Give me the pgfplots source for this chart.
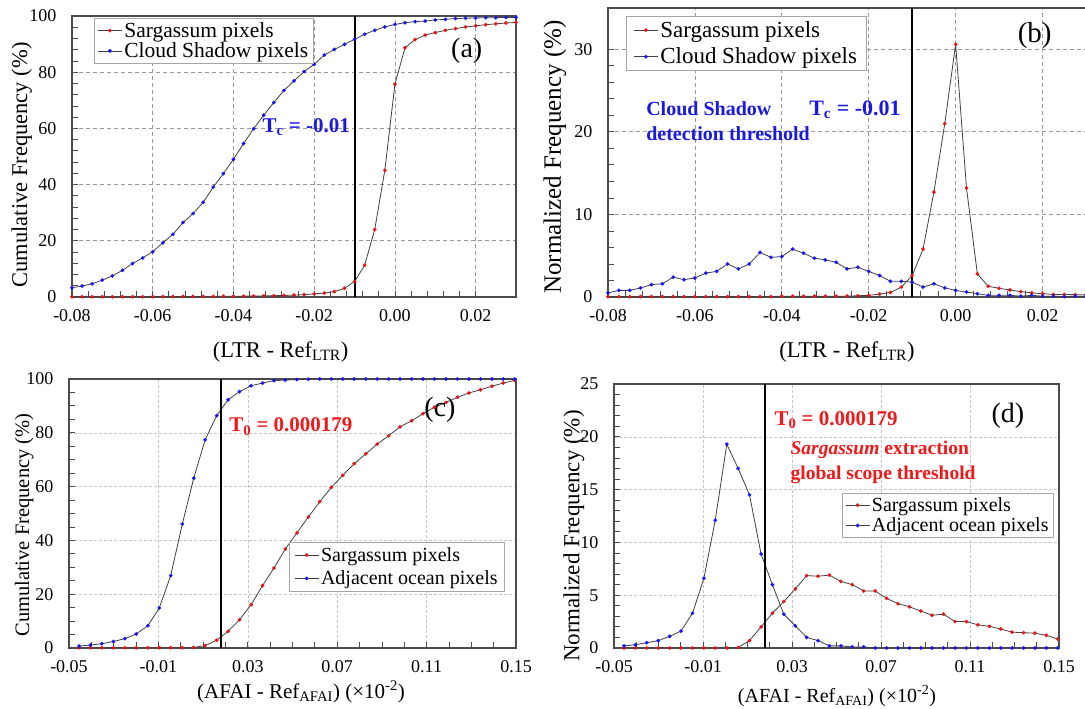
\documentclass[border=0pt]{standalone}
\usepackage{fontspec}
\setmainfont{Liberation Serif}
\usepackage{pgfplots}
\pgfplotsset{compat=1.18}

\definecolor{mred}{RGB}{230,20,20}
\definecolor{mblue}{RGB}{20,20,245}
\definecolor{tblue}{RGB}{25,25,225}
\definecolor{tred}{RGB}{240,25,25}

\newcommand{\fs}[1]{\fontsize{#1}{#1}\selectfont}

\pgfplotsset{
 panel/.style={
  scale only axis,
  axis line style={black!70, line width=1.1pt},
  tick style={black!70, line width=0.8pt},
  major tick length=6pt, minor tick length=6pt,
  xtick pos=left, ytick pos=left,
  tick align=inside,
  xmajorgrids, ymajorgrids,
  scaled x ticks=false, scaled y ticks=false,
  /pgf/number format/assume math mode=true,
  tick label style={font=\fs{18}, text=black},
  xticklabel style={yshift=-9pt},
  yticklabel style={xshift=-12pt},
  legend cell align=left,
  legend image code/.code={\draw[mark repeat=2,mark phase=2] plot coordinates {(0cm,0cm)(0.42cm,0cm)(0.84cm,0cm)};},
  legend style={draw=gray!70, line width=0.8pt, fill=white, anchor=north west, inner xsep=3pt, inner ysep=2pt},
  every axis x label/.style={anchor=base},
  every axis y label/.style={rotate=90, anchor=center},
 },
 gridA/.style={major grid style={gray!80, dash pattern=on 4pt off 3pt, line width=0.7pt}},
 gridC/.style={major grid style={gray!45, dash pattern=on 3pt off 2pt, line width=0.5pt}},
 sarg/.style={draw=black!75, line width=0.8pt, mark=*, mark size=1.8pt, mark options={solid, draw=mred, fill=mred, line width=0.2pt}},
 cloud/.style={draw=black!75, line width=0.8pt, mark=*, mark size=1.8pt, mark options={solid, draw=mblue, fill=mblue, line width=0.2pt}},
 thr/.style={draw=black, line width=2pt, forget plot},
}

\begin{document}
\begin{tikzpicture}

% ---------------- (a) ----------------
\begin{axis}[panel, gridA,
  at={(72pt,412pt)}, anchor=south west, width=444pt, height=281pt,
  xmin=-0.08, xmax=0.03, ymin=0, ymax=100,
  xtick={-0.08,-0.06,-0.04,-0.02,0,0.02},
  xticklabels={-0.08,-0.06,-0.04,-0.02,0.00,0.02},
  ytick={0,20,40,60,80,100},
  minor x tick num=4, minor y tick num=4,
  xlabel={(LTR - Ref\textsubscript{LTR})},
  ylabel={Cumulative Frequency (\%)},
  x label style={at={(axis description cs:0.47,-0.214)}, font=\fs{22.5}},
  y label style={at={(axis description cs:-0.113,0.47)}, font=\fs{22.5}},
  legend style={at={(axis description cs:0.05,0.993)}, font=\fontsize{21.5}{23}\selectfont, row sep=0pt},
]
\addplot[sarg] coordinates {
(-0.08,0.1) (-0.0775,0.1) (-0.075,0.1) (-0.0725,0.1) (-0.07,0.1) (-0.0675,0.1) (-0.065,0.1) (-0.0625,0.1)
(-0.06,0.15) (-0.0575,0.15) (-0.055,0.15) (-0.0525,0.2) (-0.05,0.2) (-0.0475,0.2) (-0.045,0.2) (-0.0425,0.25)
(-0.04,0.25) (-0.0375,0.3) (-0.035,0.35) (-0.0325,0.4) (-0.03,0.45) (-0.0275,0.55) (-0.025,0.65) (-0.0225,0.85)
(-0.02,1.1) (-0.0175,1.4) (-0.015,1.9) (-0.0125,3.1) (-0.01,5.5) (-0.0075,11.3) (-0.005,24.0) (-0.0025,45.1)
(0,75.7) (0.0025,88.7) (0.005,91.6) (0.0075,93.2) (0.01,94.1) (0.0125,94.9) (0.015,95.5) (0.0175,96.1)
(0.02,96.5) (0.0225,96.9) (0.025,97.2) (0.0275,97.5) (0.03,97.7)};
\addlegendentry{Sargassum pixels}
\addplot[cloud] coordinates {
(-0.08,3.3) (-0.0775,3.9) (-0.075,4.7) (-0.0725,6.0) (-0.07,7.5) (-0.0675,9.5) (-0.065,11.9) (-0.0625,13.9)
(-0.06,16.1) (-0.0575,19.3) (-0.055,22.3) (-0.0525,26.5) (-0.05,29.7) (-0.0475,33.7) (-0.045,39.1) (-0.0425,43.9)
(-0.04,49.0) (-0.0375,54.6) (-0.035,59.9) (-0.0325,64.7) (-0.03,69.2) (-0.0275,73.5) (-0.025,76.9) (-0.0225,80.2)
(-0.02,82.8) (-0.0175,86.1) (-0.015,88.1) (-0.0125,89.9) (-0.01,91.7) (-0.0075,93.5) (-0.005,94.9) (-0.0025,96.1)
(0,97.0) (0.0025,97.6) (0.005,98.0) (0.0075,98.2) (0.01,98.6) (0.0125,98.8) (0.015,99.1) (0.0175,99.2)
(0.02,99.3) (0.0225,99.4) (0.025,99.4) (0.0275,99.5) (0.03,99.5)};
\addlegendentry{Cloud Shadow pixels}
\addplot[thr] coordinates {(-0.01,0) (-0.01,100)};
\node[anchor=base east, text=tblue, font=\fs{21}\bfseries] at (axis cs:-0.0103,58.7) {T\textsubscript{c} = -0.01};
\node[anchor=base, font=\fs{28}] at (axis cs:0.0178,85.4) {(a)};
\end{axis}

% ---------------- (b) ----------------
\begin{axis}[panel, gridA,
  at={(608pt,412pt)}, anchor=south west, width=478pt, height=289pt,
  xmin=-0.08, xmax=0.03, ymin=0, ymax=35,
  xtick={-0.08,-0.06,-0.04,-0.02,0,0.02},
  xticklabels={-0.08,-0.06,-0.04,-0.02,0.00,0.02},
  ytick={0,10,20,30},
  minor x tick num=4, minor y tick num=4,
  xlabel={(LTR - Ref\textsubscript{LTR})},
  ylabel={Normalized Frequency (\%)},
  x label style={at={(axis description cs:0.5,-0.208)}, font=\fs{22.5}},
  y label style={at={(axis description cs:-0.111,0.484)}, font=\fs{25}},
  legend style={at={(axis description cs:0.038,0.972)}, font=\fontsize{23}{27}\selectfont, row sep=5pt, inner xsep=7pt, inner ysep=3pt},
]
\addplot[sarg] coordinates {
(-0.08,0.05) (-0.0775,0.05) (-0.075,0.05) (-0.0725,0.05) (-0.07,0.05) (-0.0675,0.05) (-0.065,0.05) (-0.0625,0.05)
(-0.06,0.05) (-0.0575,0.05) (-0.055,0.05) (-0.0525,0.05) (-0.05,0.05) (-0.0475,0.05) (-0.045,0.05) (-0.0425,0.05)
(-0.04,0.1) (-0.0375,0.1) (-0.035,0.1) (-0.0325,0.1) (-0.03,0.1) (-0.0275,0.1) (-0.025,0.1) (-0.0225,0.15)
(-0.02,0.2) (-0.0175,0.35) (-0.015,0.55) (-0.0125,1.2) (-0.01,2.6) (-0.0075,5.8) (-0.005,12.7) (-0.0025,21.0)
(0,30.6) (0.0025,13.2) (0.005,2.8) (0.0075,1.3) (0.01,1.05) (0.0125,0.85) (0.015,0.65) (0.0175,0.5)
(0.02,0.4) (0.0225,0.3) (0.025,0.3) (0.0275,0.28) (0.03,0.28)};
\addlegendentry{Sargassum pixels}
\addplot[cloud] coordinates {
(-0.08,0.5) (-0.0775,0.8) (-0.075,0.8) (-0.0725,1.1) (-0.07,1.5) (-0.0675,1.6) (-0.065,2.4) (-0.0625,2.1)
(-0.06,2.3) (-0.0575,2.9) (-0.055,3.1) (-0.0525,4.0) (-0.05,3.4) (-0.0475,4.0) (-0.045,5.4) (-0.0425,4.8)
(-0.04,4.9) (-0.0375,5.8) (-0.035,5.3) (-0.0325,4.7) (-0.03,4.5) (-0.0275,4.2) (-0.025,3.4) (-0.0225,3.6)
(-0.02,3.1) (-0.0175,2.6) (-0.015,1.9) (-0.0125,1.9) (-0.01,1.8) (-0.0075,1.2) (-0.005,1.6) (-0.0025,1.1)
(0,0.8) (0.0025,0.6) (0.005,0.4) (0.0075,0.2) (0.01,0.2) (0.0125,0.2) (0.015,0.1) (0.0175,0.2)
(0.02,0.1) (0.0225,0.1) (0.025,0.05) (0.0275,0.1) (0.03,0.1)};
\addlegendentry{Cloud Shadow pixels}
\addplot[thr] coordinates {(-0.01,0) (-0.01,35)};
\node[anchor=base west, text=tblue, font=\fs{20}\bfseries] at (axis cs:-0.072,22.0) {Cloud Shadow};
\node[anchor=base west, text=tblue, font=\fs{20}\bfseries] at (axis cs:-0.072,19.0) {detection threshold};
\node[anchor=base west, text=tblue, font=\fs{22}\bfseries] at (axis cs:-0.0345,22.0) {T\textsubscript{c} = -0.01};
\node[anchor=base, font=\fs{29}] at (axis cs:0.0182,30.8) {(b)};
\end{axis}

% ---------------- (c) ----------------
\begin{axis}[panel, gridC,
  at={(69pt,61pt)}, anchor=south west, width=447pt, height=269pt,
  xmin=-0.05, xmax=0.15, ymin=0, ymax=100,
  xtick={-0.05,-0.01,0.03,0.07,0.11,0.15},
  xticklabels={-0.05,-0.01,0.03,0.07,0.11,0.15},
  ytick={0,20,40,60,80,100},
  minor x tick num=3, minor y tick num=3,
  xlabel={(AFAI - Ref\textsubscript{AFAI}) (×10\textsuperscript{-2})},
  ylabel={Cumulative Frequency (\%)},
  x label style={at={(axis description cs:0.519,-0.186)}, font=\fs{21}},
  y label style={at={(axis description cs:-0.10,0.457)}, font=\fs{20.5}},
  legend style={at={(axis description cs:0.492,0.394)}, font=\fontsize{20}{24}\selectfont, row sep=4pt, inner xsep=5pt, inner ysep=3pt},
]
\addplot[sarg] coordinates {
(-0.0455,0.1) (-0.0404,0.1) (-0.0353,0.1) (-0.0301,0.1) (-0.0250,0.1) (-0.0199,0.1) (-0.0147,0.1) (-0.0096,0.1)
(-0.0045,0.1) (0.0007,0.1) (0.0058,0.2) (0.0109,0.9) (0.0161,2.9) (0.0212,6.2) (0.0263,10.5) (0.0315,16.1)
(0.0366,23.2) (0.0417,29.7) (0.0468,36.8) (0.0520,42.8) (0.0571,48.7) (0.0622,54.4) (0.0674,59.7) (0.0725,64.2)
(0.0776,68.5) (0.0828,72.2) (0.0879,75.8) (0.0930,78.9) (0.0981,82.2) (0.1033,84.5) (0.1084,87.1) (0.1135,89.5)
(0.1187,91.3) (0.1238,93.2) (0.1289,94.8) (0.1341,96.0) (0.1392,97.3) (0.1443,98.5) (0.1494,99.5)};
\addlegendentry{Sargassum pixels}
\addplot[cloud] coordinates {
(-0.0455,0.7) (-0.0404,1.1) (-0.0353,1.6) (-0.0301,2.4) (-0.0250,3.5) (-0.0199,5.2) (-0.0147,8.3) (-0.0096,14.9)
(-0.0045,26.9) (0.0007,46.1) (0.0058,63.1) (0.0109,77.4) (0.0161,86.4) (0.0212,92.3) (0.0263,95.3) (0.0315,97.5)
(0.0366,98.5) (0.0417,99.4) (0.0468,99.6) (0.0520,99.8) (0.0571,99.9) (0.0622,100) (0.0674,100) (0.0725,100)
(0.0776,100) (0.0828,100) (0.0879,100) (0.0930,100) (0.0981,100) (0.1033,100) (0.1084,100) (0.1135,100)
(0.1187,100) (0.1238,100) (0.1289,100) (0.1341,100) (0.1392,100) (0.1443,100) (0.1494,100)};
\addlegendentry{Adjacent ocean pixels}
\addplot[thr] coordinates {(0.0179,0) (0.0179,100)};
\node[anchor=base west, text=tred, font=\fs{21}\bfseries] at (axis cs:0.0202,80.3) {T\textsubscript{0} = 0.000179};
\node[anchor=base, font=\fs{28}] at (axis cs:0.116,85.9) {(c)};
\end{axis}

% ---------------- (d) ----------------
\begin{axis}[panel, gridC,
  at={(614pt,61pt)}, anchor=south west, width=445pt, height=264pt,
  xmin=-0.05, xmax=0.15, ymin=0, ymax=25,
  xtick={-0.05,-0.01,0.03,0.07,0.11,0.15},
  xticklabels={-0.05,-0.01,0.03,0.07,0.11,0.15},
  ytick={0,5,10,15,20,25},
  minor x tick num=3, minor y tick num=4,
  xlabel={(AFAI - Ref\textsubscript{AFAI}) (×10\textsuperscript{-2})},
  ylabel={Normalized Frequency (\%)},
  x label style={at={(axis description cs:0.501,-0.205)}, font=\fs{20}},
  y label style={at={(axis description cs:-0.09,0.424)}, font=\fs{23}},
  legend style={at={(axis description cs:0.512,0.587)}, font=\fontsize{20}{22}\selectfont, row sep=1pt},
]
\addplot[sarg] coordinates {
(-0.0455,0) (-0.0404,0) (-0.0353,0) (-0.0301,0) (-0.0250,0) (-0.0199,0) (-0.0147,0) (-0.0096,0)
(-0.0045,0) (0.0007,0) (0.0058,0.05) (0.0109,0.7) (0.0161,2.0) (0.0212,3.3) (0.0263,4.4) (0.0315,5.6)
(0.0366,6.85) (0.0417,6.8) (0.0468,6.9) (0.0520,6.3) (0.0571,6.0) (0.0622,5.4) (0.0674,5.4) (0.0725,4.7)
(0.0776,4.2) (0.0828,3.9) (0.0879,3.5) (0.0930,3.1) (0.0981,3.2) (0.1033,2.5) (0.1084,2.5) (0.1135,2.2)
(0.1187,2.05) (0.1238,1.8) (0.1289,1.5) (0.1341,1.45) (0.1392,1.4) (0.1443,1.2) (0.1494,0.85)};
\addlegendentry{Sargassum pixels}
\addplot[cloud] coordinates {
(-0.0455,0.2) (-0.0404,0.3) (-0.0353,0.5) (-0.0301,0.7) (-0.0250,1.1) (-0.0199,1.6) (-0.0147,3.3) (-0.0096,6.6)
(-0.0045,12.1) (0.0007,19.3) (0.0058,17.0) (0.0109,14.5) (0.0161,8.9) (0.0212,6.0) (0.0263,3.2) (0.0315,2.1)
(0.0366,1.0) (0.0417,0.7) (0.0468,0.2) (0.0520,0.2) (0.0571,0.1) (0.0622,0.1) (0.0674,0) (0.0725,0)
(0.0776,0) (0.0828,0) (0.0879,0) (0.0930,0) (0.0981,0) (0.1033,0) (0.1084,0) (0.1135,0)
(0.1187,0) (0.1238,0) (0.1289,0) (0.1341,0) (0.1392,0) (0.1443,0) (0.1494,0)};
\addlegendentry{Adjacent ocean pixels}
\addplot[thr] coordinates {(0.0179,0) (0.0179,25)};
\node[anchor=base west, text=tred, font=\fs{21}\bfseries] at (axis cs:0.0206,21.1) {T\textsubscript{0} = 0.000179};
\node[anchor=base, font=\fs{28}] at (axis cs:0.127,21.4) {(d)};
\node[anchor=base west, text=tred, font=\fs{19.5}\bfseries] at (axis cs:0.0278,18.3) {\textit{Sargassum} extraction};
\node[anchor=base west, text=tred, font=\fs{19.5}\bfseries] at (axis cs:0.0278,16.0) {global scope threshold};
\end{axis}

\pgfresetboundingbox
\useasboundingbox (0,0) rectangle (1085pt,709pt);
\end{tikzpicture}
\end{document}
